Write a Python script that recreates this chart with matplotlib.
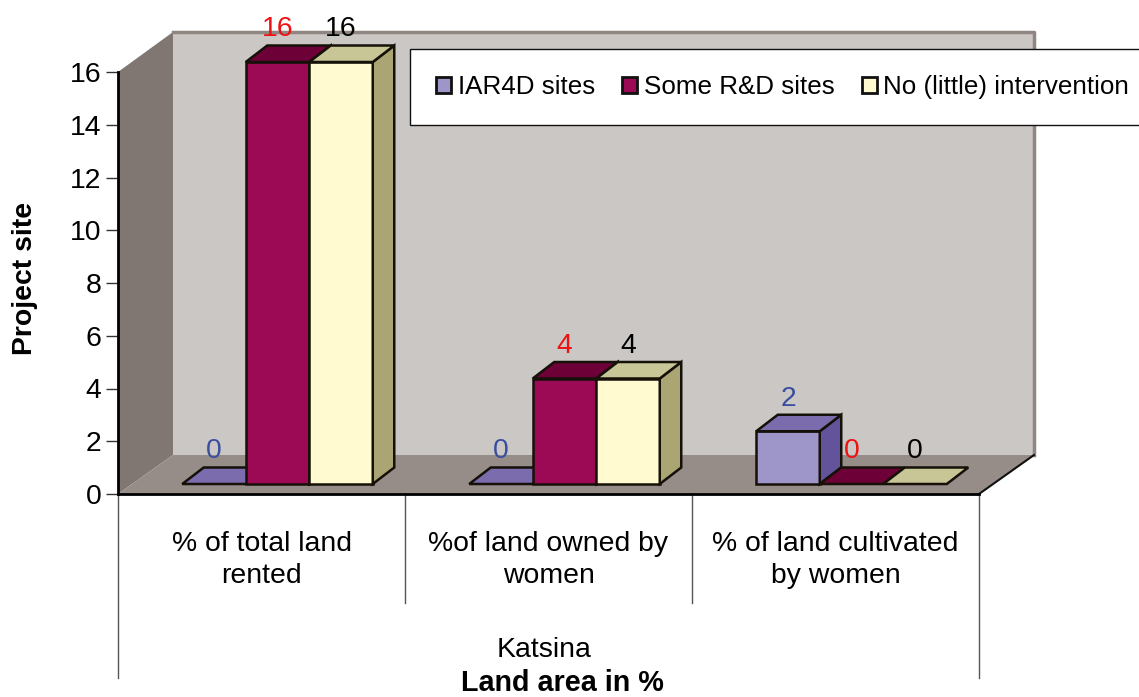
import matplotlib
matplotlib.use("Agg")
import matplotlib.pyplot as plt
from matplotlib.patches import Polygon, Patch, Rectangle

plt.rcParams["font.family"] = "Liberation Sans"

categories = ["% of total land\nrented", "%of land owned by\nwomen", "% of land cultivated\nby women"]
group_label = "Katsina"
series_names = ["IAR4D sites", "Some R&D sites", "No (little) intervention"]
iar4d = [0, 0, 2]
some_rd = [16, 4, 0]
no_intervention = [16, 4, 0]
yticks = [0, 2, 4, 6, 8, 10, 12, 14, 16]

W, H = 1139, 697
left, right, top, bottom = 118, 979, 72, 494
px_x = (right - left) / 3
px_y = (bottom - top) / 16
fs = 20.4


def dx(p):
    return p / px_x


def dy(p):
    return p / px_y


fig = plt.figure(figsize=(W / 100, H / 100), dpi=100)
ax = fig.add_axes([left / W, 1 - bottom / H, (right - left) / W, (bottom - top) / H])
ax.set_xlim(0, 3)
ax.set_ylim(0, 16)
ax.patch.set_alpha(0)

# walls and floor
wd, wh = dx(55), dy(40)
ax.add_patch(Polygon([(dx(55), dy(39)), (3 + wd, dy(39)), (3 + wd, 16 + wh), (dx(55), 16 + wh)],
                     fc="#cbc7c4", ec="none", clip_on=False, zorder=1))
ax.add_patch(Polygon([(0, 0), (wd, dy(39)), (wd, 16 + wh), (0, 16)],
                     fc="#807672", ec="none", clip_on=False, zorder=1))
ax.add_patch(Polygon([(0, 0), (wd, dy(39)), (3 + wd, dy(39)), (3, 0)],
                     fc="#968c88", ec="none", clip_on=False, zorder=1))
ax.plot([wd, 3 + wd, 3 + wd], [16 + wh, 16 + wh, dy(39)], color="#8f8682", lw=2.5, clip_on=False, zorder=1)
ax.plot([3, 3 + wd], [0, dy(39)], color="#111111", lw=1.5, clip_on=False, zorder=2)

# 3d bars
bw = dx(63.5)
bx, by = dx(21.5), dy(16.5)
base = dy(10)
shift = dx(16)
colors = [("#9e96c8", "#7b6cae", "#62539a"),
          ("#9c0a55", "#6e0038", "#6e0038"),
          ("#fffacf", "#c8c597", "#aba573")]
label_colors = ["#3a4ea0", "#ee1111", "#000000"]
z = 3
for s, vals in enumerate([iar4d, some_rd, no_intervention]):
    for i, v in enumerate(vals):
        x0 = i + 0.5 + shift + (s - 1.5) * bw
        x1 = x0 + bw
        y1 = base + v
        ec = "#151008"
        if v > 0:
            ax.add_patch(Rectangle((x0, base), bw, v, fc=colors[s][0], ec=ec, lw=1.8, zorder=z, clip_on=False))
            ax.add_patch(Polygon([(x1, base), (x1 + bx, base + by), (x1 + bx, y1 + by), (x1, y1)],
                                 fc=colors[s][2], ec=ec, lw=1.8, zorder=z, clip_on=False))
        ax.add_patch(Polygon([(x0, y1), (x0 + bx, y1 + by), (x1 + bx, y1 + by), (x1, y1)],
                             fc=colors[s][1], ec=ec, lw=1.8, zorder=z, clip_on=False))
        ax.text((x0 + x1) / 2, y1 + by + dy(16), str(v), color=label_colors[s], fontsize=fs,
                ha="center", va="center", zorder=10, clip_on=False)
        z += 1

# y axis
ax.set_yticks(yticks)
ax.set_xticks([])
ax.tick_params(axis="y", length=9, width=1, labelsize=fs, pad=3, color="#333333")
for name in ["top", "right"]:
    ax.spines[name].set_visible(False)
ax.spines["left"].set_linewidth(2)
ax.spines["bottom"].set_linewidth(2)
ax.spines["left"].set_zorder(2)

# multi level category axis
for i in range(4):
    low = dy(184) if i in (0, 3) else dy(109)
    ax.plot([i, i], [0, -low], color="#555555", lw=1, clip_on=False, zorder=2)
for i, c in enumerate(categories):
    ax.text(i + 0.5, dy(-66), c, fontsize=fs, ha="center", va="center", linespacing=1.3, clip_on=False)
ax.text(1.5 - dx(4), dy(-156), group_label, fontsize=fs, ha="center", va="center", clip_on=False)

fig.text(562 / W, 1 - 683 / H, "Land area in %", fontsize=20.7, fontweight="bold", ha="center", va="center")
fig.text(25 / W, 1 - 278 / H, "Project site", fontsize=fs, fontweight="bold", rotation=90, ha="center", va="center")

# legend
handles = [Patch(fc=colors[i][0], ec="#111111", lw=2) for i in range(3)]
leg = ax.legend(handles, series_names, ncols=3, loc="upper left",
                bbox_to_anchor=(410 / W, 1 - 49 / H), bbox_transform=fig.transFigure,
                fontsize=18.7, handlelength=0.58, handleheight=0.58, handletextpad=0.25,
                columnspacing=1.05, borderpad=1.0, borderaxespad=0, fancybox=False,
                framealpha=1, edgecolor="#111111")
leg.get_frame().set_linewidth(1)
leg.set_zorder(20)

fig.savefig("out.png", dpi=100)
